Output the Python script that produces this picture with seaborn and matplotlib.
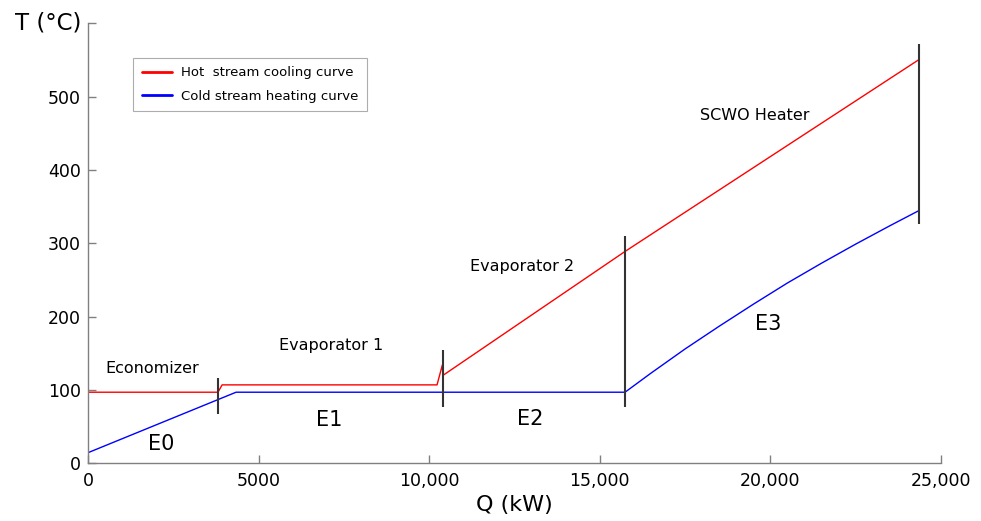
import matplotlib
matplotlib.use("Agg")
import matplotlib.pyplot as plt
import numpy as np
import pandas as pd
import seaborn as sns

# composite curves (Q in kW, T in degC)
hot_q = [0, 3810, 3930, 10230, 10385, 10405, 15740, 24365]
hot_t = [97, 97, 107, 107, 134, 120, 289, 551]

cold_q = [0, 4340, 15740, 16500, 17500, 18500, 19500, 20500, 21500, 22500, 23500, 24365]
cold_t = [14.5, 97, 97, 123, 156, 187, 217, 246, 273, 299, 324, 345]

# exchanger boundaries (vertical markers)
bound_q = [3810, 10405, 15740, 24365]
bound_lo = [67, 77, 77, 326]
bound_hi = [117, 155, 310, 572]

section_names = ["Economizer", "Evaporator 1", "Evaporator 2", "SCWO Heater"]
section_q = [1890, 7120, 12720, 19550]
section_t = [129, 161, 269, 475]

unit_names = ["E0", "E1", "E2", "E3"]
unit_q = [2150, 7060, 12950, 19940]
unit_t = [27, 59, 61, 190]

xticks = [0, 5000, 10000, 15000, 20000, 25000]
xtick_labels = ["0", "5000", "10,000", "15,000", "20,000", "25,000"]
yticks = [0, 100, 200, 300, 400, 500, 600]
ytick_labels = ["0", "100", "200", "300", "400", "500", ""]

sns.set_style("ticks")
plt.rcParams.update({
    "font.family": ["DejaVu Sans"],
    "text.color": "black",
    "axes.labelcolor": "black",
    "xtick.labelcolor": "black",
    "ytick.labelcolor": "black",
    "axes.spines.top": False,
    "axes.spines.right": False,
})

hot_df = pd.DataFrame({"Q": hot_q, "T": hot_t})
cold_df = pd.DataFrame({"Q": cold_q, "T": cold_t})

fig = plt.figure(figsize=(9.81, 5.21), dpi=100)
ax = fig.add_axes([0.0897, 0.1107, 0.8695, 0.8443])

sns.lineplot(data=hot_df, x="Q", y="T", ax=ax, color="#ff0000", lw=1.0,
             sort=False, estimator=None, label="Hot  stream cooling curve")
sns.lineplot(data=cold_df, x="Q", y="T", ax=ax, color="#0000ff", lw=1.0,
             sort=False, estimator=None, label="Cold stream heating curve")

ax.vlines(bound_q, bound_lo, bound_hi, color="#333333", lw=1.5)

for name, q, t in zip(section_names, section_q, section_t):
    ax.text(q, t, name, ha="center", va="center", fontsize=11.5, color="black")
for name, q, t in zip(unit_names, unit_q, unit_t):
    ax.text(q, t, name, ha="center", va="center", fontsize=15, color="black")

ax.set_xlim(0, 25000)
ax.set_ylim(0, 600)
ax.set_xticks(xticks)
ax.set_xticklabels(xtick_labels)
ax.set_yticks(yticks)
ax.set_yticklabels(ytick_labels)
ax.tick_params(direction="in", length=6, width=1, color="#808080",
               labelsize=12.5, pad=5, labelcolor="black")
ax.tick_params(axis="x", pad=6)
for side in ["left", "bottom"]:
    ax.spines[side].set_color("#808080")
    ax.spines[side].set_linewidth(1.0)

ax.set_xlabel("Q (kW)", fontsize=16, labelpad=4, color="black")
ax.set_ylabel("T (°C)", fontsize=16.5, rotation=0, ha="right", va="center",
              color="black")
ax.yaxis.set_label_coords(-0.008, 1.0)

leg = ax.legend(loc="upper left", bbox_to_anchor=(0.0528, 0.922),
                borderaxespad=0, fontsize=9.5, frameon=True, fancybox=False,
                handlelength=2.3, handletextpad=0.7, labelspacing=0.8,
                borderpad=0.65, edgecolor="#999999")
leg.get_frame().set_linewidth(0.8)
for line in leg.get_lines():
    line.set_linewidth(2.0)
for txt in leg.get_texts():
    txt.set_color("black")

fig.savefig("out.png", dpi=100)
plt.close(fig)
